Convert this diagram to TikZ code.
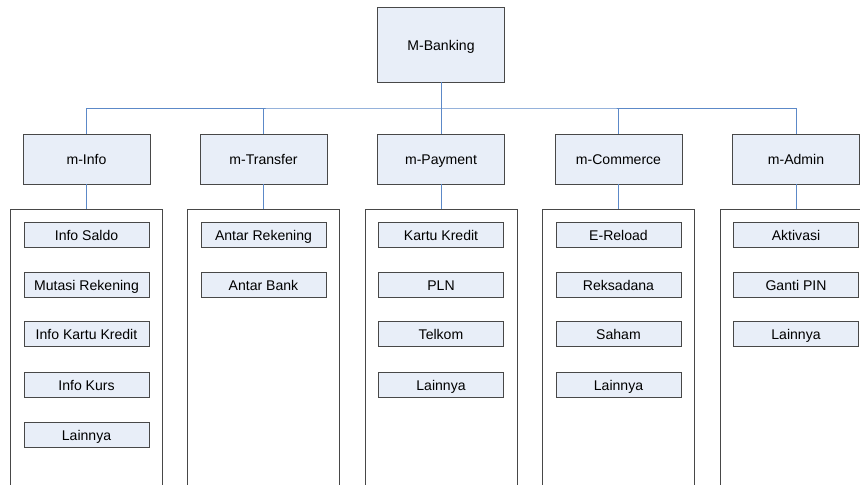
\documentclass[tikz,border=0pt]{standalone}
\usepackage{fontspec}
\setmainfont{Liberation Sans}
\usepackage{tikz}
\usetikzlibrary{shapes,positioning,calc}
\definecolor{isi}{RGB}{232,238,248}
\definecolor{tepi}{RGB}{72,72,72}
\definecolor{biru}{RGB}{92,137,200}
\tikzstyle{utama} = [rectangle, minimum width=2.54cm, minimum height=1.5cm, text centered, text height=1.6ex, text depth=0.4ex, draw=tepi, fill=isi, line width=0.55pt, font=\fontsize{8}{9.6}\selectfont]
\tikzstyle{modul} = [rectangle, minimum width=2.54cm, minimum height=1cm, text centered, text height=1.6ex, text depth=0.4ex, draw=tepi, fill=isi, line width=0.55pt, font=\fontsize{8}{9.6}\selectfont]
\tikzstyle{wadah} = [rectangle, minimum width=3.04cm, minimum height=6.01cm, draw=tepi, line width=0.55pt]
\tikzstyle{menu} = [rectangle, minimum width=2.5cm, minimum height=0.5cm, inner sep=0pt, text centered, text height=1.6ex, text depth=0.4ex, draw=tepi, fill=isi, line width=0.55pt, font=\fontsize{8}{9.6}\selectfont]
\tikzstyle{garis} = [draw=biru, line width=0.5pt]
\begin{document}
\begin{tikzpicture}
\clip (0,0) rectangle (17.2,-9.7);
\node (mb) at (8.82,-0.89) [utama] {M-Banking};
\coordinate (bus) at (8.82,-2.16);
% modul
\node (info) at (1.73,-3.18) [modul] {m-Info};
\node (trf) at (5.27,-3.18) [modul] {m-Transfer};
\node (pay) at (8.82,-3.18) [modul] {m-Payment};
\node (com) at (12.37,-3.18) [modul] {m-Commerce};
\node (adm) at (15.92,-3.18) [modul] {m-Admin};
\draw[garis] (mb) -- (bus);
\draw[garis] (info.north) |- (bus) -| (adm.north);
\draw[garis] (trf.north) -- (trf.north |- bus);
\draw[garis] (pay.north) -- (pay.north |- bus);
\draw[garis] (com.north) -- (com.north |- bus);
% wadah
\node (winfo) at (1.73,-7.195) [wadah] {};
\node (wtrf) at (5.27,-7.195) [wadah] {};
\node (wpay) at (8.82,-7.195) [wadah] {};
\node (wcom) at (12.37,-7.195) [wadah] {};
\node (wadm) at (15.92,-7.195) [wadah] {};
\draw[garis] (info) -- (winfo);
\draw[garis] (trf) -- (wtrf);
\draw[garis] (pay) -- (wpay);
\draw[garis] (com) -- (wcom);
\draw[garis] (adm) -- (wadm);
% m-Info
\node (i1) at (1.73,-4.7) [menu] {Info Saldo};
\node (i2) at (1.73,-5.69) [menu] {Mutasi Rekening};
\node (i3) at (1.73,-6.68) [menu] {Info Kartu Kredit};
\node (i4) at (1.73,-7.69) [menu] {Info Kurs};
\node (i5) at (1.73,-8.7) [menu] {Lainnya};
% m-Transfer
\node (t1) at (5.27,-4.7) [menu] {Antar Rekening};
\node (t2) at (5.27,-5.69) [menu] {Antar Bank};
% m-Payment
\node (p1) at (8.82,-4.7) [menu] {Kartu Kredit};
\node (p2) at (8.82,-5.69) [menu] {PLN};
\node (p3) at (8.82,-6.68) [menu] {Telkom};
\node (p4) at (8.82,-7.69) [menu] {Lainnya};
% m-Commerce
\node (c1) at (12.37,-4.7) [menu] {E-Reload};
\node (c2) at (12.37,-5.69) [menu] {Reksadana};
\node (c3) at (12.37,-6.68) [menu] {Saham};
\node (c4) at (12.37,-7.69) [menu] {Lainnya};
% m-Admin
\node (a1) at (15.92,-4.7) [menu] {Aktivasi};
\node (a2) at (15.92,-5.69) [menu] {Ganti PIN};
\node (a3) at (15.92,-6.68) [menu] {Lainnya};
\end{tikzpicture}
\end{document}
